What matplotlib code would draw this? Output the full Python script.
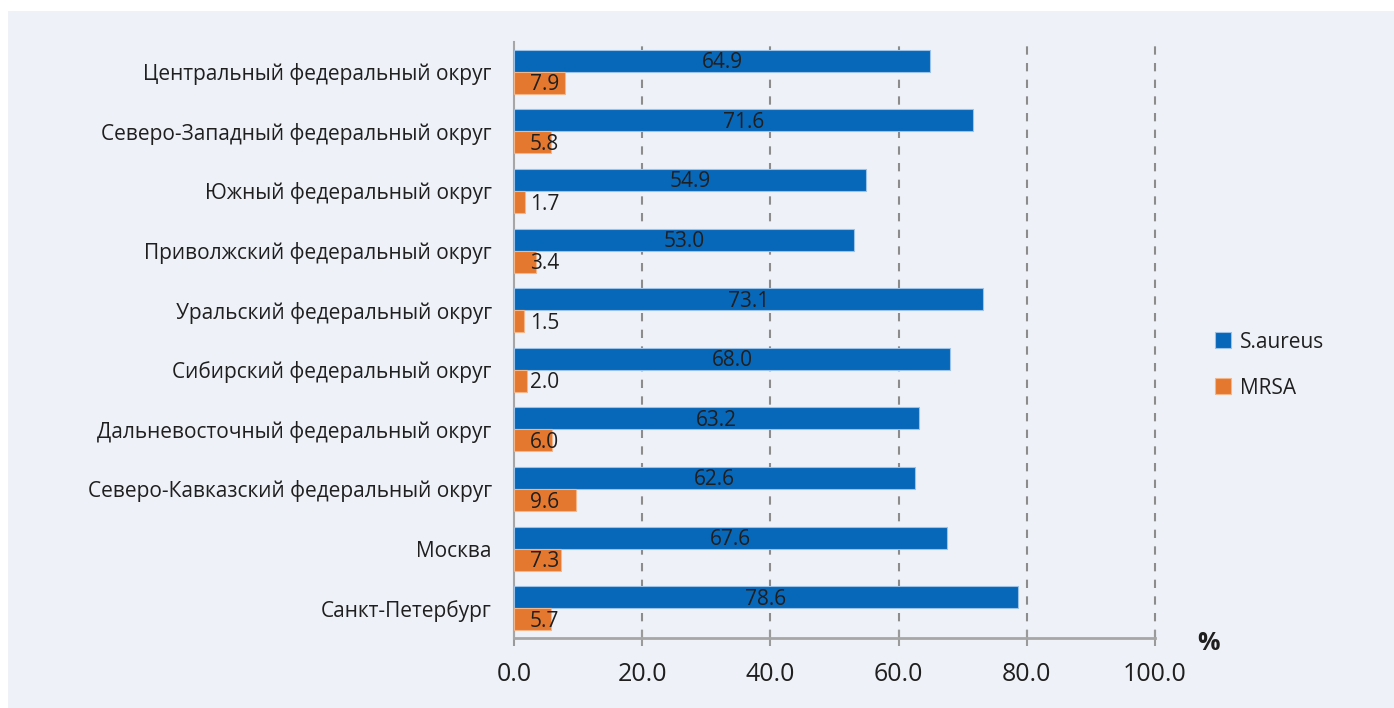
import numpy as np
import matplotlib.pyplot as plt
from matplotlib.patches import Rectangle

# dados
regioes = [
    'Центральный федеральный округ',
    'Северо-Западный федеральный округ',
    'Южный федеральный округ',
    'Приволжский федеральный округ',
    'Уральский федеральный округ',
    'Сибирский федеральный округ',
    'Дальневосточный федеральный округ',
    'Северо-Кавказский федеральный округ',
    'Москва',
    'Санкт-Петербург',
]
s_aureus = [64.9, 71.6, 54.9, 53.0, 73.1, 68.0, 63.2, 62.6, 67.6, 78.6]
mrsa = [7.9, 5.8, 1.7, 3.4, 1.5, 2.0, 6.0, 9.6, 7.3, 5.7]
ticks_x = [0, 20, 40, 60, 80, 100]

cor_azul = '#0767b8'
cor_laranja = '#e5782f'
cor_fundo = '#eef2f8'
cor_texto = '#1f1f1f'

plt.rcParams['font.family'] = ['Liberation Sans Narrow', 'Open Sans', 'DejaVu Sans']

fig = plt.figure(figsize=(13.94, 7.08), dpi=100)
fig.patch.set_facecolor('white')
# fundo do painel (deixa margem branca em cima e a esquerda)
fig.patches.append(Rectangle((8 / 1394, 0), 1, 1 - 11 / 708, transform=fig.transFigure,
                             facecolor=cor_fundo, edgecolor='none', zorder=-10))

ax = fig.add_axes([514 / 1394, 1 - 638 / 708, (1155 - 514) / 1394, (638 - 42) / 708])
ax.set_facecolor('none')

y = np.arange(len(regioes))
altura = 0.37

ax.barh(y - altura / 2, s_aureus, height=altura, color=cor_azul,
        edgecolor='#9cc2e8', linewidth=0.8, zorder=3, label='S.aureus')
ax.barh(y + altura / 2, mrsa, height=altura, color=cor_laranja,
        edgecolor='#f3b58a', linewidth=0.8, zorder=3, label='MRSA')

for i in range(len(regioes)):
    ax.annotate(f'{s_aureus[i]:.1f}', (s_aureus[i] / 2, y[i] - altura / 2), xytext=(0, -2),
                textcoords='offset pixels', ha='center', va='center',
                fontsize=15, color=cor_texto, zorder=4)
    ax.annotate(f'{mrsa[i]:.1f}', (0, y[i] + altura / 2), xytext=(16, -2), textcoords='offset pixels',
                ha='left', va='center', fontsize=15, color=cor_texto, zorder=4)

ax.set_xlim(0, 100)
ax.set_ylim(9.5, -0.5)
ax.set_xticks(ticks_x)
ax.set_xticklabels([f'{t:.1f}' for t in ticks_x], fontsize=18, color=cor_texto)
ax.set_yticks(y)
ax.set_yticklabels(regioes, fontsize=15, color=cor_texto)
ax.tick_params(axis='y', length=0, pad=16)
ax.tick_params(axis='x', direction='inout', length=11, width=1.5, color='#9a9a9a', pad=12)

for t in ticks_x[1:]:
    ax.axvline(t, color='#8c8c8c', linestyle=(0, (4, 4)), linewidth=1.5, zorder=1, clip_on=False)

for lado in ['top', 'right']:
    ax.spines[lado].set_visible(False)
ax.spines['left'].set_color('#a6a6a6')
ax.spines['left'].set_linewidth(1.5)
ax.spines['bottom'].set_color('#a6a6a6')
ax.spines['bottom'].set_linewidth(2)

fig.text(1208 / 1394, 1 - 643 / 708, '%', fontsize=18, fontweight='bold', color=cor_texto,
         ha='center', va='center')

fig.legend(loc='center left', bbox_to_anchor=(1196 / 1394, 1 - 365 / 708), frameon=False,
           fontsize=15, handlelength=0.8, handleheight=0.8, handletextpad=0.4,
           labelspacing=1.2, labelcolor=cor_texto)

fig.savefig('out.png', dpi=100, facecolor=fig.get_facecolor())
